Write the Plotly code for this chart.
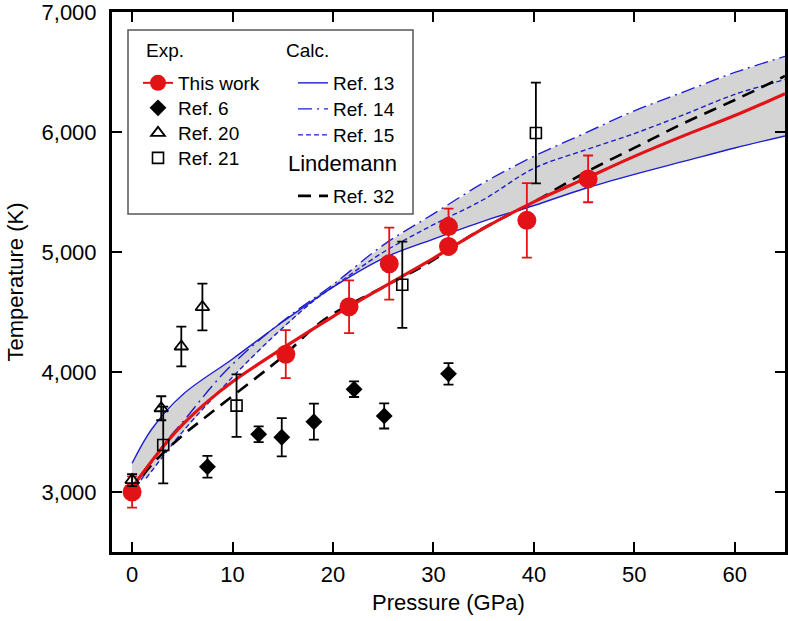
import numpy as np
import plotly.graph_objects as go

# ---------------- data ----------------
# This work: experimental points
tw_p = [0.0, 15.3, 21.6, 25.6, 31.5, 31.5, 39.3, 45.4]
tw_t = [3000, 4150, 4545, 4905, 5049, 5214, 5266, 5612]
tw_e = [130, 200, 220, 300, 0, 150, 310, 195]
# This work: fitted melting curve
fit_p = [0, 3, 5, 7.5, 10, 15, 20, 25, 30, 35, 40, 45, 50, 55, 60, 65]
fit_t = [3040, 3370, 3560, 3754, 3920, 4200, 4464, 4710, 4950, 5200, 5420, 5610, 5800, 5975, 6140, 6322]

# Ref. 6 (diamonds)
r6_p = [7.5, 12.6, 14.9, 18.1, 22.1, 25.1, 31.5]
r6_t = [3211, 3482, 3457, 3587, 3858, 3635, 3986]
r6_e = [90, 65, 160, 150, 65, 105, 90]
# Ref. 20 (triangles)
r20_p = [0.0, 2.9, 4.9, 7.0]
r20_t = [3100, 3699, 4214, 4543]
r20_e = [50, 100, 165, 195]
# Ref. 21 (squares)
r21_p = [3.1, 10.4, 26.9, 40.2]
r21_t = [3393, 3721, 4729, 5995]
r21_e = [320, 260, 360, 420]

# Calculations
r13_p = [0, 2, 5, 10, 15, 20, 25, 30, 35, 40, 45, 50, 55, 60, 65]
r13_t = [3240, 3530, 3810, 4110, 4420, 4710, 4950, 5110, 5260, 5390, 5530, 5650, 5760, 5870, 5970]
r14_p = [0.9, 3, 5.2, 8.8, 12, 16, 20, 25, 30, 35, 40, 45, 50, 55, 60, 65]
r14_t = [3100, 3380, 3600, 3963, 4220, 4490, 4730, 5060, 5320, 5580, 5800, 5990, 6180, 6340, 6500, 6634]
r15_p = [1.4, 5, 8.8, 12, 15, 18, 21, 25, 30, 35, 40, 45, 50, 55, 60, 65]
r15_t = [3114, 3500, 3852, 4130, 4370, 4590, 4770, 5000, 5230, 5440, 5700, 5850, 5990, 6150, 6317, 6440]
# Lindemann, Ref. 32
r32_p = [0, 1.5, 4.5, 7.8, 12, 15, 19.1, 25, 29.2, 34.7, 40, 45, 50, 55, 60, 65]
r32_t = [2990, 3184, 3434, 3657, 3930, 4130, 4437, 4710, 4895, 5189, 5420, 5660, 5870, 6080, 6270, 6470]

x_ticks = [0, 10, 20, 30, 40, 50, 60]
y_ticks = [3000, 4000, 5000, 6000, 7000]

# ---------------- style ----------------
RED = "rgb(226,18,22)"
BLUE = "rgb(30,30,210)"
FONT = "Liberation Sans, Arial, Helvetica, sans-serif"

L, R, T, B = 112, 3, 12, 69
W, H = 788, 621
pw, ph = W - L - R, H - T - B


def px(xp):
    return (xp - L) / pw


def py(yp):
    return (H - B - yp) / ph


fig = go.Figure()

# grey band spanned by the calculated curves
grid = np.linspace(0, 65, 400)
c13 = np.interp(grid, r13_p, r13_t)
c14 = np.interp(grid, r14_p, r14_t)
c15 = np.interp(grid, r15_p, r15_t)
band_hi = np.maximum.reduce([c13, c14, c15])
band_lo = np.minimum.reduce([c13, c14, c15])
fig.add_trace(go.Scatter(
    x=np.concatenate([grid, grid[::-1]]), y=np.concatenate([band_hi, band_lo[::-1]]),
    fill="toself", fillcolor="rgb(212,212,212)", line=dict(width=0),
    mode="lines", showlegend=False, hoverinfo="skip"))

# calculated curves
fig.add_trace(go.Scatter(x=r13_p, y=r13_t, mode="lines", name="Ref. 13",
                         line=dict(color=BLUE, width=1.4, shape="spline"), legend="legend5"))
fig.add_trace(go.Scatter(x=r14_p, y=r14_t, mode="lines", name="Ref. 14",
                         line=dict(color=BLUE, width=1.4, dash="14px,5px,2px,5px", shape="spline"),
                         legend="legend6"))
fig.add_trace(go.Scatter(x=r15_p, y=r15_t, mode="lines", name="Ref. 15",
                         line=dict(color=BLUE, width=1.4, dash="5px,3px", shape="spline"),
                         legend="legend7"))
fig.add_trace(go.Scatter(x=r32_p, y=r32_t, mode="lines", name="Ref. 32",
                         line=dict(color="black", width=2.6, dash="13px,8px", shape="spline"),
                         legend="legend8"))
# fitted curve
fig.add_trace(go.Scatter(x=fit_p, y=fit_t, mode="lines", showlegend=False,
                         line=dict(color=RED, width=3.2, shape="spline")))

# experimental data
fig.add_trace(go.Scatter(x=r6_p, y=r6_t, mode="markers", name="Ref. 6",
                         marker=dict(symbol="diamond", size=13, color="black"),
                         error_y=dict(type="data", array=r6_e, color="black", thickness=1.8, width=5),
                         legend="legend2"))
fig.add_trace(go.Scatter(x=r21_p, y=r21_t, mode="markers", name="Ref. 21",
                         marker=dict(symbol="square-open", size=11, color="black", line=dict(width=1.6)),
                         error_y=dict(type="data", array=r21_e, color="black", thickness=1.8, width=5),
                         legend="legend4"))
fig.add_trace(go.Scatter(x=tw_p, y=tw_t, mode="markers", showlegend=False,
                         marker=dict(symbol="circle", size=19, color=RED),
                         error_y=dict(type="data", array=tw_e, color=RED, thickness=1.8, width=5)))
fig.add_trace(go.Scatter(x=r20_p, y=r20_t, mode="markers", name="Ref. 20",
                         marker=dict(symbol="triangle-up-open", size=12, color="black", line=dict(width=1.8)),
                         error_y=dict(type="data", array=r20_e, color="black", thickness=1.8, width=5),
                         legend="legend3"))
# legend proxy for "This work" (line + marker)
fig.add_trace(go.Scatter(x=[None], y=[None], mode="lines+markers", name="This work",
                         line=dict(color=RED, width=2), marker=dict(size=19, color=RED),
                         legend="legend"))

leg_font = dict(family=FONT, size=19, color="black")


def leg(x_left, y_center):
    return dict(x=px(x_left), y=py(y_center), xanchor="left", yanchor="middle",
                bgcolor="rgba(0,0,0,0)", borderwidth=0, font=leg_font, itemsizing="trace")


EXP_X, CALC_X = 138, 293
legends = {
    "legend": leg(EXP_X, 83), "legend2": leg(EXP_X, 108), "legend3": leg(EXP_X, 133),
    "legend4": leg(EXP_X, 158),
    "legend5": leg(CALC_X, 83), "legend6": leg(CALC_X, 109), "legend7": leg(CALC_X, 135),
    "legend8": leg(CALC_X, 196),
}

annotations = [
    dict(text="Exp.", x=px(144), y=py(51), xref="paper", yref="paper", xanchor="left",
         yanchor="middle", showarrow=False, font=leg_font),
    dict(text="Calc.", x=px(284), y=py(51), xref="paper", yref="paper", xanchor="left",
         yanchor="middle", showarrow=False, font=leg_font),
    dict(text="Lindemann", x=px(286), y=py(164), xref="paper", yref="paper", xanchor="left",
         yanchor="middle", showarrow=False, font=dict(family=FONT, size=22, color="black")),
]

fig.update_layout(
    width=W, height=H,
    margin=dict(l=L, r=R, t=T, b=B, autoexpand=False),
    paper_bgcolor="white", plot_bgcolor="white",
    font=dict(family=FONT, size=22, color="black"),
    xaxis=dict(range=[-2, 65], tickvals=x_ticks, ticktext=[str(v) for v in x_ticks],
               ticks="inside", ticklen=10, tickwidth=1.6, tickcolor="black",
               showline=True, linewidth=3, linecolor="black", mirror="ticks",
               showgrid=False, zeroline=False, tickfont=dict(size=22),
               ticklabelstandoff=1, automargin=False,
               title=dict(text="Pressure (GPa)", font=dict(size=22), standoff=9)),
    yaxis=dict(range=[2500, 7004], tickvals=y_ticks, ticktext=[f"{v:,}" for v in y_ticks],
               ticks="inside", ticklen=10, tickwidth=1.6, tickcolor="black",
               showline=True, linewidth=3, linecolor="black", mirror="ticks",
               showgrid=False, zeroline=False, tickfont=dict(size=22),
               ticklabelstandoff=8, automargin=False,
               title=dict(text="Temperature (K)", font=dict(size=22), standoff=12)),
    annotations=annotations,
    shapes=[dict(type="rect", xref="paper", yref="paper",
                 x0=px(128), x1=px(413), y0=py(214), y1=py(30),
                 line=dict(color="#555555", width=1.5), fillcolor="rgba(0,0,0,0)", layer="above")],
    **legends,
)

fig.write_html("out.html", config={"displayModeBar": False},
               post_script="document.body.style.margin='0px';document.body.style.overflow='hidden';")
